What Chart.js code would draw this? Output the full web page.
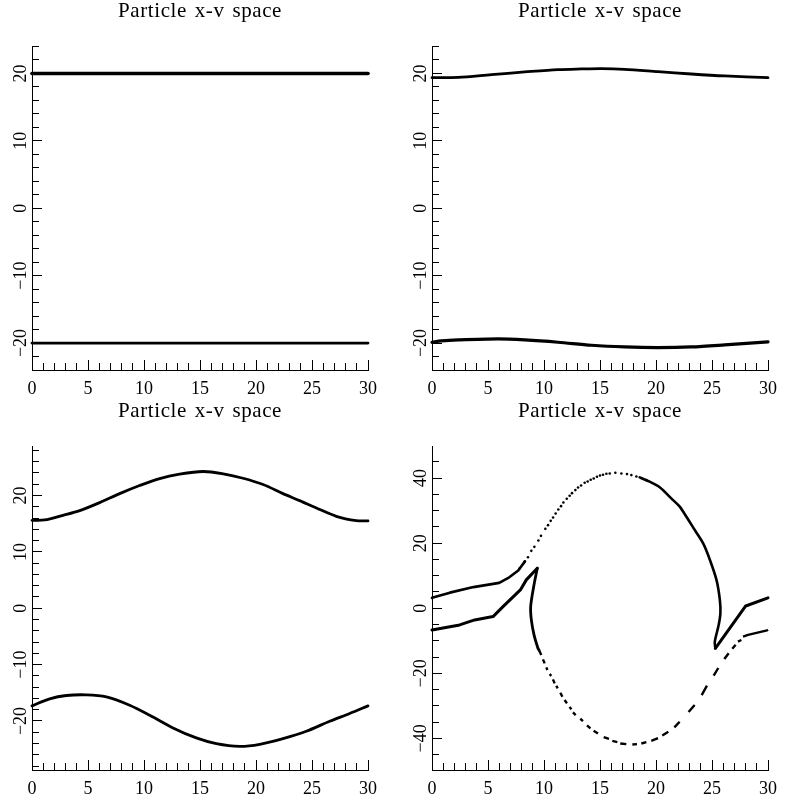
<!DOCTYPE html>
<html>
<head>
<meta charset="utf-8">
<title>Particle x-v space</title>
<script src="https://cdn.jsdelivr.net/npm/chart.js@4/dist/chart.umd.min.js"></script>
<style>
  html, body { margin: 0; padding: 0; background: #fff; }
  #wrap { position: relative; width: 800px; height: 800px; overflow: hidden; }
  canvas { position: absolute; }
</style>
</head>
<body>
<div id="wrap">
  <canvas id="p1" width="400" height="400" style="left:0;top:0"></canvas>
  <canvas id="p2" width="400" height="400" style="left:400px;top:0"></canvas>
  <canvas id="p3" width="400" height="400" style="left:0;top:400px"></canvas>
  <canvas id="p4" width="400" height="400" style="left:400px;top:400px"></canvas>
</div>
<script>
const titleText = 'Particle x-v space';

// x axis is the same everywhere
const xTicks = [0,1,2,3,4,5,6,7,8,9,10,11,12,13,14,15,16,17,18,19,20,21,22,23,24,25,26,27,28,29,30];
const xLabels = [0,5,10,15,20,25,30];

// y axes
const yTicks12 = [-22,-20,-18,-16,-14,-12,-10,-8,-6,-4,-2,0,2,4,6,8,10,12,14,16,18,20,22,24];
const yLabels12 = [-20,-10,0,10,20];
const yTicks3 = [-28,-26,-24,-22,-20,-18,-16,-14,-12,-10,-8,-6,-4,-2,0,2,4,6,8,10,12,14,16,18,20,22,24,26,28];
const yLabels3 = [-20,-10,0,10,20];
const yTicks4 = [-45,-40,-35,-30,-25,-20,-15,-10,-5,0,5,10,15,20,25,30,35,40,45];
const yLabels4 = [-40,-20,0,20,40];

// panel 1
const p1UpperX = [0,30];
const p1UpperY = [20,20];
const p1LowerX = [0,30];
const p1LowerY = [-20,-20];

// panel 2
const p2UpperX = [0,2.33,5.3,8.28,11.25,13.34,15.12,17.2,20.18,23.16,26.13,30];
const p2UpperY = [19.38,19.43,19.83,20.22,20.57,20.67,20.72,20.62,20.27,19.92,19.63,19.38];
const p2LowerX = [0,0.83,2.33,5.9,8.28,11.25,14.23,17.2,20.18,23.16,26.13,30];
const p2LowerY = [-19.9,-19.69,-19.54,-19.39,-19.54,-19.88,-20.33,-20.58,-20.67,-20.58,-20.28,-19.83];

// panel 3
const p3UpperX = [0,1.13,2.77,4.26,6.04,7.83,9.61,11.4,13.18,15.27,16.96,18.84,20.63,22.41,23.9,25.39,27.17,28.96,30];
const p3UpperY = [15.6,15.66,16.49,17.32,18.74,20.34,21.77,23.01,23.78,24.26,23.9,23.07,21.95,20.34,19.1,17.79,16.31,15.54,15.5];
const p3LowerX = [0,1.58,3.07,4.85,6.64,8.72,10.51,12.59,14.67,16.46,18.54,20.33,22.41,24.49,26.58,28.36,30];
const p3LowerY = [-17.32,-16.07,-15.48,-15.36,-15.72,-17.2,-18.98,-21.23,-23.01,-24.02,-24.5,-24.14,-23.13,-21.83,-20.05,-18.68,-17.32];

// panel 4, solid parts
const p4TopLeftX = [0,1.6,3.7,6,6.9,7.7,8.3];
const p4TopLeftY = [3.2,4.8,6.5,7.8,9.5,11.6,14.4];
const p4TipLeftX = [0,2.47,3.81,5.45,6.34,7.89,8.42,9.4];
const p4TipLeftY = [-6.67,-5.13,-3.59,-2.56,0.51,5.64,8.72,12.3];
const p4TipDownX = [9.4,9.08,8.81,8.87,9.11,9.46,9.55];
const p4TipDownY = [12.3,6.67,0.51,-3.59,-8.2,-12.3,-12.83];
const p4ArcRightX = [18.54,19.43,20.33,21.5,22.1,22.7,23.45,24.2,24.8,25.4,25.7,25.75,25.6,25.25,25.3];
const p4ArcRightY = [40.2,38.9,37.2,33.3,31.3,28.2,24.1,20,15,8.7,2.6,-1.5,-5.1,-10.3,-12.3];
const p4TipRightX = [25.3,28.01,30];
const p4TipRightY = [-12.3,0.7,3.2];
// panel 4, separate particles along the top
const p4DotsX = [7.83,8.28,8.57,8.87,9.14,9.5,9.73,10.12,10.36,10.6,10.81,11.04,11.28,11.52,11.73,12.03,12.29,12.5,12.8,13.04,13.31,13.63,13.9,14.17,14.44,14.73,15,15.27,15.57,15.87,16.37,16.91,17.41,17.8,18.25,18.69,19.14];
const p4DotsY = [12.3,14.35,15.68,17.63,18.86,20.81,22.24,24.4,25.53,26.86,27.89,29.12,30.35,31.37,32.5,33.63,34.55,35.37,36.3,37.12,37.73,38.55,38.96,39.47,39.88,40.4,40.81,41.01,41.32,41.42,41.63,41.42,41.22,40.91,40.5,39.99,39.37];
// panel 4, broken line along the bottom (null = gap)
const p4DashX = [9.55,9.76,null,9.91,10.06,null,10.21,10.3,null,10.51,10.65,null,10.8,10.95,null,11.1,11.22,null,11.46,11.64,null,11.84,12.05,null,12.29,12.44,null,12.59,12.83,null,13.24,13.48,null,13.84,14.14,null,14.43,14.82,null,15.33,15.8,null,16.1,16.55,null,16.81,17.35,null,17.89,18.3,null,18.69,19.14,null,19.58,20.18,null,20.56,21.1,null,21.64,22.11,null,22.91,23.45,null,24.08,24.55,null,25.15,25.56,null,26.1,26.49,null,26.81,27.11,null,27.32,27.62,null,27.77,28.22,29.92,30];
const p4DashY = [-12.83,-14.37,null,-15.7,-16.93,null,-18.16,-18.98,null,-20.21,-20.83,null,-21.86,-23.09,null,-23.8,-24.62,null,-25.96,-27.19,null,-28.21,-29.24,null,-30.27,-31.09,null,-32.01,-32.83,null,-33.96,-34.67,null,-36,-36.93,null,-37.65,-38.47,null,-39.6,-40.11,null,-40.73,-41.14,null,-41.55,-41.75,null,-41.85,-41.75,null,-41.55,-41.13,null,-40.72,-39.9,null,-39.08,-37.95,null,-36.62,-34.88,null,-31.9,-29.75,null,-26.67,-23.8,null,-20.72,-18.36,null,-15.6,-13.85,null,-12.42,-11.19,null,-10.26,-9.75,null,-8.73,-8.2,-6.8,-6.6];

const serif = '"Liberation Serif", serif';

function pts(xs, ys) {
    return xs.map((x, i) => ({ x: x, y: ys[i] }));
}

function line(xs, ys, width, tension, cap) {
    return {
        data: pts(xs, ys),
        showLine: true,
        borderColor: '#000',
        borderWidth: width,
        borderCapStyle: cap || 'round',
        borderJoinStyle: 'round',
        tension: tension || 0,
        pointRadius: 0,
        clip: false
    };
}

function dots(xs, ys, radius) {
    return {
        data: pts(xs, ys),
        showLine: false,
        backgroundColor: '#000',
        borderWidth: 0,
        pointRadius: radius,
        clip: false
    };
}

// gnuplot style ticks, they point into the plot
const insideTicks = {
    id: 'insideTicks',
    afterDraw(chart) {
        const c = chart.ctx;
        const { x, y } = chart.scales;
        c.save();
        c.strokeStyle = '#000';
        c.lineWidth = 1;
        c.beginPath();
        x.ticks.forEach(t => {
            const px = Math.round(x.getPixelForValue(t.value) - 0.5) + 0.5;
            c.moveTo(px, x.top);
            c.lineTo(px, x.top - (t.label ? 10 : 7));
        });
        y.ticks.forEach(t => {
            const py = Math.round(y.getPixelForValue(t.value) - 0.5) + 0.5;
            c.moveTo(y.right, py);
            c.lineTo(y.right + (t.label ? 10 : 7), py);
        });
        c.stroke();
        c.restore();
    }
};

// the title is spaced wider than the font's own metrics, and sits at the
// middle of the whole canvas rather than the padded area
const wideTitle = {
    id: 'wideTitle',
    beforeDraw(chart) {
        const block = chart.titleBlock;
        if (block._wide) return;
        const draw = block.draw;
        block.draw = function () {
            const c = chart.ctx;
            c.save();
            c.translate(16, 0);
            c.letterSpacing = '0.6px';
            c.wordSpacing = '2px';
            draw.call(block);
            c.restore();
        };
        block._wide = true;
    }
};

function axisLabel(list) {
    return v => list.includes(v) ? String(v).replace('-', '\u2212') : '';
}

function panel(id, datasets, yMax, yTicks, yLabels) {
    return new Chart(document.getElementById(id), {
        type: 'scatter',
        data: { datasets: datasets },
        plugins: [insideTicks, wideTitle],
        options: {
            responsive: false,
            animation: false,
            layout: { padding: { right: 32 } },
            plugins: {
                legend: { display: false },
                tooltip: { enabled: false },
                title: {
                    display: true,
                    text: titleText,
                    color: '#000',
                    font: { family: serif, size: 21, weight: 'normal', lineHeight: 1.2 },
                    padding: { top: -1.6, bottom: 22.9 }
                }
            },
            scales: {
                x: {
                    type: 'linear',
                    min: 0,
                    max: 30,
                    afterBuildTicks: s => { s.ticks = xTicks.map(v => ({ value: v })); },
                    afterFit: s => { s.height = 30; },
                    grid: { drawOnChartArea: false, drawTicks: false },
                    border: { color: '#000', width: 1 },
                    ticks: {
                        autoSkip: false,
                        maxRotation: 0,
                        minRotation: 0,
                        padding: 8,
                        color: '#000',
                        font: { family: serif, size: 18 },
                        callback: axisLabel(xLabels)
                    }
                },
                y: {
                    type: 'linear',
                    min: -yMax,
                    max: yMax,
                    afterBuildTicks: s => { s.ticks = yTicks.map(v => ({ value: v })); },
                    afterFit: s => { s.width = 32; },
                    grid: { drawOnChartArea: false, drawTicks: false },
                    border: { color: '#000', width: 1 },
                    ticks: {
                        autoSkip: false,
                        minRotation: 90,
                        maxRotation: 90,
                        crossAlign: 'center',
                        padding: -3,
                        color: '#000',
                        font: { family: serif, size: 18 },
                        callback: axisLabel(yLabels)
                    }
                }
            }
        }
    });
}

panel('p1', [
    line(p1UpperX, p1UpperY, 3.6),
    line(p1LowerX, p1LowerY, 2.8)
], 24, yTicks12, yLabels12);

panel('p2', [
    line(p2UpperX, p2UpperY, 2.8, 0.3),
    line(p2LowerX, p2LowerY, 3.2, 0.3)
], 24, yTicks12, yLabels12);

panel('p3', [
    line(p3UpperX, p3UpperY, 2.8, 0.3),
    line(p3LowerX, p3LowerY, 2.8, 0.3)
], 28.7, yTicks3, yLabels3);

panel('p4', [
    line(p4TopLeftX, p4TopLeftY, 2.6),
    line(p4TipLeftX, p4TipLeftY, 3),
    line(p4TipDownX, p4TipDownY, 2.8, 0.3),
    line(p4ArcRightX, p4ArcRightY, 2.6, 0.3),
    line(p4TipRightX, p4TipRightY, 3),
    dots(p4DotsX, p4DotsY, 1.3),
    line(p4DashX, p4DashY, 2.4, 0, 'butt')
], 49.7, yTicks4, yLabels4);
</script>
</body>
</html>
